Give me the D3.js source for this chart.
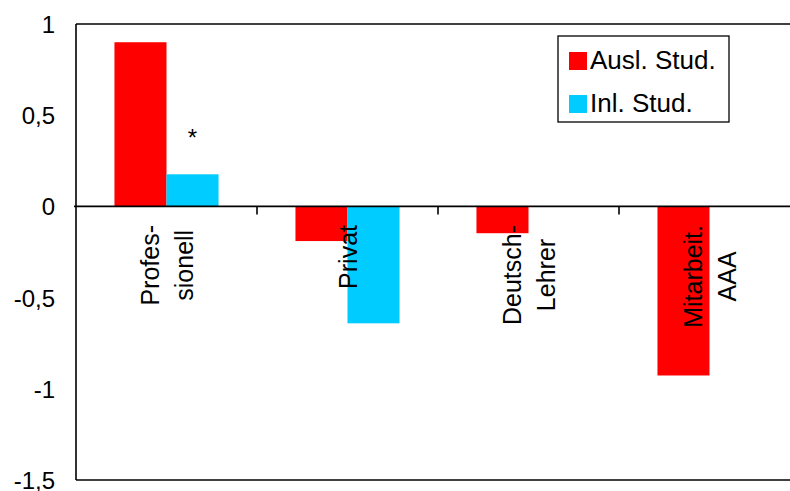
<!DOCTYPE html>
<html>
<head>
<meta charset="utf-8">
<script src="https://cdn.jsdelivr.net/npm/d3@7"></script>
<style>
  html, body { margin: 0; padding: 0; background: #ffffff; }
  svg { display: block; font-family: "Liberation Sans", Arial, sans-serif; }
</style>
</head>
<body>
<svg id="chart" width="790" height="491"></svg>
<script>
// ---- data ----
const categories = ["Profesionell", "Privat", "Deutsch-Lehrer", "Mitarbeit. AAA"];
const categoryLabelLines = [["Profes-", "sionell"], ["Privat"], ["Deutsch-", "Lehrer"], ["Mitarbeit.", "AAA"]];
const seriesNames = ["Ausl. Stud.", "Inl. Stud."];
const auslStud = [0.90, -0.19, -0.147, -0.927];
const inlStud = [0.176, -0.641, null, null];
const seriesColors = ["#ff0000", "#00ccff"];
const yTicks = [1, 0.5, 0, -0.5, -1, -1.5];
const yTickLabels = ["1", "0,5", "0", "-0,5", "-1", "-1,5"];
const annotations = [{ category: "Profesionell", series: 1, text: "*" }];

// ---- layout ----
const svg = d3.select("#chart");
const plot = { left: 76, right: 800, top: 24, bottom: 480 };

const x = d3.scaleBand().domain(categories).range([plot.left, plot.right])
  .paddingInner(0.425).paddingOuter(0.2125);
const xs = d3.scaleBand().domain(seriesNames).range([0, x.bandwidth()]);
const y = d3.scaleLinear().domain([-1.5, 1]).range([plot.bottom, plot.top]);

const seriesValues = [auslStud, inlStud];

// bars
seriesNames.forEach((s, si) => {
  const rows = categories.map((c, i) => ({ c, v: seriesValues[si][i] })).filter(d => d.v !== null);
  svg.append("g").selectAll("rect").data(rows).join("rect")
    .attr("x", d => x(d.c) + xs(s))
    .attr("width", xs.bandwidth())
    .attr("y", d => y(Math.max(0, d.v)))
    .attr("height", d => Math.abs(y(d.v) - y(0)))
    .attr("fill", seriesColors[si]);
});

// frame (left, top, bottom)
const frame = svg.append("g").attr("stroke", "#000").attr("stroke-width", 1.6).attr("fill", "none");
frame.append("line").attr("x1", plot.left).attr("x2", plot.right).attr("y1", plot.top).attr("y2", plot.top);
frame.append("line").attr("x1", plot.left).attr("x2", plot.right).attr("y1", plot.bottom).attr("y2", plot.bottom);
frame.append("line").attr("x1", plot.left).attr("x2", plot.left).attr("y1", plot.top).attr("y2", plot.bottom);

// zero line with category ticks
const xAxis = d3.axisBottom(x).tickSize(0).tickFormat("");
const gx = svg.append("g").attr("transform", `translate(0,${y(0)})`).call(xAxis);
gx.select(".domain").attr("stroke", "#000").attr("stroke-width", 1.6).attr("d", `M${plot.left - 2},0H${plot.right}`);
gx.selectAll(".bnd").data(categories.slice(1)).join("line")
  .attr("class", "bnd")
  .attr("x1", c => x(c) - (x.step() - x.bandwidth()) / 2)
  .attr("x2", c => x(c) - (x.step() - x.bandwidth()) / 2)
  .attr("y1", 0).attr("y2", 8)
  .attr("stroke", "#000").attr("stroke-width", 1.6);

// y axis labels
const yAxis = d3.axisLeft(y).tickValues(yTicks).tickSize(0).tickPadding(0)
  .tickFormat((d, i) => yTickLabels[i]);
const gy = svg.append("g").attr("transform", `translate(${plot.left - 21},0)`).call(yAxis);
gy.select(".domain").remove();
gy.selectAll("text").attr("font-size", 24).attr("fill", "#000")
  .attr("font-family", "Liberation Sans, Arial, sans-serif").attr("dy", "0.35em");

// category labels (rotated)
const labelTop = 225;
const catG = svg.append("g").attr("font-size", 25).attr("fill", "#000");
categories.forEach((c, i) => {
  const lines = categoryLabelLines[i];
  const cx = x(c) + x.bandwidth() / 2;
  const g = catG.append("g");
  const texts = lines.map((t, li) => {
    const off = (li - (lines.length - 1) / 2) * 34;
    return g.append("text").text(t)
      .attr("text-anchor", "middle")
      .attr("transform", `translate(${cx + off + 9},0) rotate(-90)`);
  });
  const maxLen = d3.max(texts, t => t.node().getComputedTextLength());
  texts.forEach(t => t.attr("x", -(labelTop + maxLen / 2)));
});

// annotations
annotations.forEach(a => {
  const si = a.series;
  const ci = categories.indexOf(a.category);
  const v = seriesValues[si][ci];
  svg.append("text").text(a.text)
    .attr("x", x(a.category) + xs(seriesNames[si]) + xs.bandwidth() / 2)
    .attr("y", y(v) - 28)
    .attr("text-anchor", "middle")
    .attr("font-size", 24).attr("fill", "#000");
});

// legend
const lg = svg.append("g").attr("transform", "translate(558,36)");
lg.append("rect").attr("width", 171).attr("height", 86)
  .attr("fill", "#fff").attr("stroke", "#000").attr("stroke-width", 1.3);
seriesNames.forEach((s, i) => {
  const row = lg.append("g").attr("transform", `translate(0,${i * 43})`);
  row.append("rect").attr("x", 11).attr("y", 16).attr("width", 18).attr("height", 18).attr("fill", seriesColors[i]);
  row.append("text").text(s).attr("x", 32).attr("y", 33).attr("font-size", 26).attr("fill", "#000");
});
</script>
</body>
</html>
